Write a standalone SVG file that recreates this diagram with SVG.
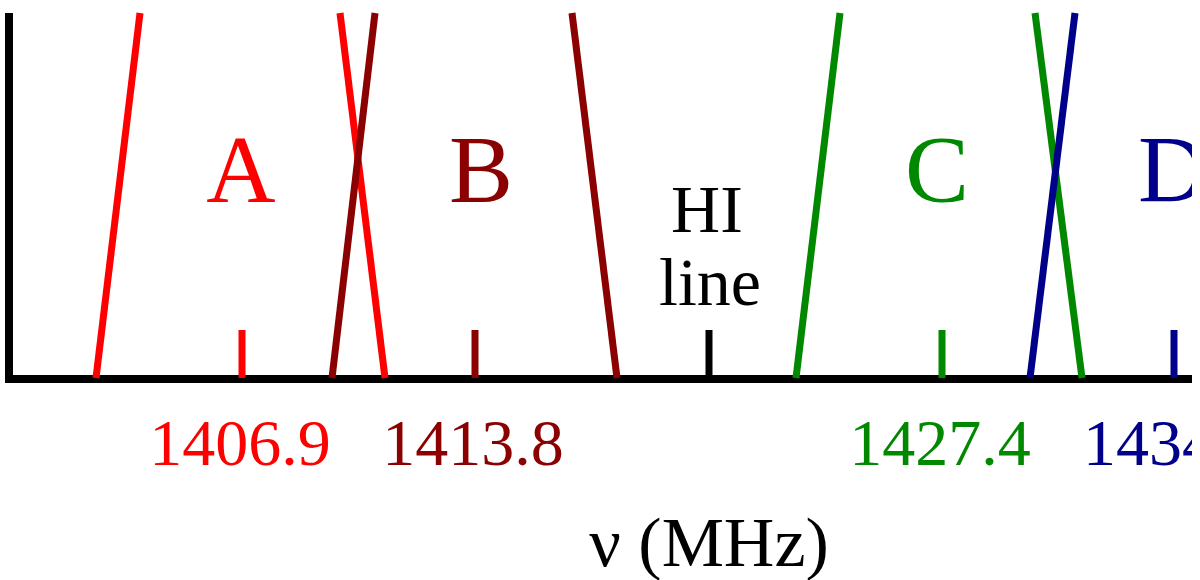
<svg xmlns="http://www.w3.org/2000/svg" width="1200" height="580" viewBox="0 0 1200 580">
<defs>
<clipPath id="clip"><rect x="0" y="0" width="1192" height="580"/></clipPath>
</defs>
<style>
text { font-family: "Liberation Serif", "Times New Roman", serif; text-anchor: middle; }
.big { font-size: 96px; }
.num { font-size: 66px; }
.lab { font-size: 68px; }
.xl { font-size: 70px; }
.ln { stroke-width: 7; fill: none; }
.tick { stroke-width: 7; }
.red { stroke: #ff0000; } .tred { fill: #ff0000; }
.dred { stroke: #8b0000; } .tdred { fill: #8b0000; }
.grn { stroke: #008800; } .tgrn { fill: #008800; }
.blu { stroke: #00008b; } .tblu { fill: #00008b; }
.blk { stroke: #000000; }
</style>
<rect width="1200" height="580" fill="#ffffff"/>
<g clip-path="url(#clip)">
<g id="axes">
<line x1="9" y1="13" x2="9" y2="379" stroke="#000" stroke-width="8"/>
<line x1="5" y1="379" x2="1192" y2="379" stroke="#000" stroke-width="8"/>
</g>
<g id="connectors">
<line class="ln red" x1="140" y1="13" x2="96" y2="378"/>
<line class="ln red" x1="340" y1="13" x2="385" y2="378"/>
<line class="ln dred" x1="375" y1="13" x2="332" y2="378"/>
<line class="ln dred" x1="572" y1="13" x2="617" y2="378"/>
<line class="ln grn" x1="840" y1="13" x2="796" y2="378"/>
<line class="ln grn" x1="1035" y1="13" x2="1082" y2="378"/>
<line class="ln blu" x1="1075" y1="13" x2="1030" y2="378"/>
</g>
<g id="A">
<line class="tick red" x1="242" y1="330" x2="242" y2="378"/>
<text class="big tred" x="241" y="202">A</text>
<text class="num tred" x="240" y="465">1406.9</text>
</g>
<g id="B">
<line class="tick dred" x1="475" y1="330" x2="475" y2="378"/>
<text class="big tdred" x="481" y="202">B</text>
<text class="num tdred" x="473" y="465">1413.8</text>
</g>
<g id="HI">
<line class="tick blk" x1="709" y1="330" x2="709" y2="378"/>
<text class="lab" x="707" y="232">HI</text>
<text class="lab" x="710" y="305">line</text>
</g>
<g id="C">
<line class="tick grn" x1="942" y1="330" x2="942" y2="378"/>
<text class="big tgrn" x="937" y="202">C</text>
<text class="num tgrn" x="940" y="465">1427.4</text>
</g>
<g id="D">
<line class="tick blu" x1="1174" y1="330" x2="1174" y2="378"/>
<text class="big tblu" x="1138" y="202" style="text-anchor:start">D</text>
<text class="num tblu" x="1083" y="465" style="text-anchor:start">1434</text>
</g>
<g id="xlabel">
<text class="xl" x="709" y="566">ν (MHz)</text>
</g>
</g>
</svg>
